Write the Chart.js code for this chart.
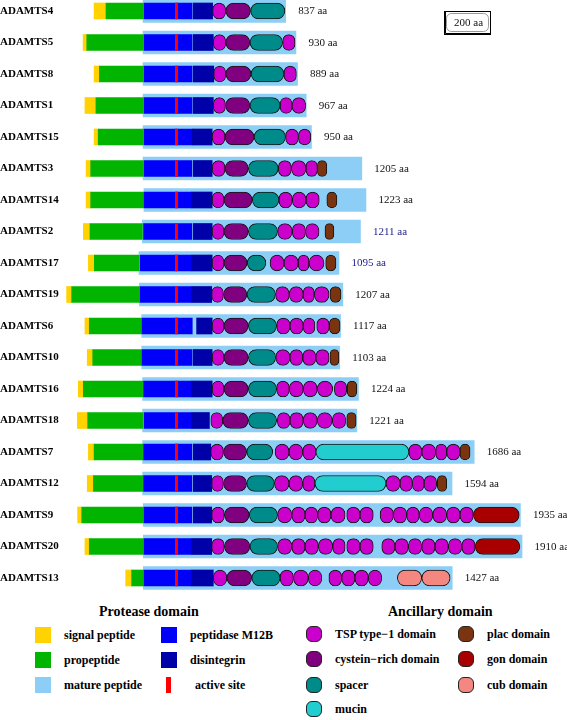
<!DOCTYPE html>
<html><head><meta charset="utf-8">
<script src="https://cdn.jsdelivr.net/npm/chart.js@4.4.1/dist/chart.umd.min.js"></script>
<style>
html,body{margin:0;padding:0;background:#fff;}
#wrap{position:relative;width:567px;height:720px;overflow:hidden;font-family:"Liberation Serif","Times New Roman",serif;background:#fff;}
#chartBox{position:absolute;left:0;top:0;width:567px;height:600px;}
.h{position:absolute;font-weight:bold;font-size:14px;line-height:16px;white-space:nowrap;color:#000;}
.t{position:absolute;font-weight:bold;font-size:12px;line-height:16px;white-space:nowrap;color:#000;}
.sw{position:absolute;width:16px;height:16px;box-sizing:border-box;}
.sw.r{border:1px solid #222;border-radius:6px;}
</style></head>
<body>
<div id="wrap">
  <div id="chartBox"><canvas id="c"></canvas></div>
  <div class="h" style="left:99px;top:604px;">Protease domain</div>
  <div class="h" style="left:388px;top:604px;">Ancillary domain</div>

  <div class="sw" style="left:35px;top:627px;background:#FFD200;"></div><div class="t" style="left:64px;top:627px;">signal peptide</div>
  <div class="sw" style="left:35px;top:652px;background:#00B400;"></div><div class="t" style="left:64px;top:652px;">propeptide</div>
  <div class="sw" style="left:35px;top:677px;background:#8CCEF6;"></div><div class="t" style="left:64px;top:677px;">mature peptide</div>
  <div class="sw" style="left:161px;top:627px;background:#0000FA;"></div><div class="t" style="left:190px;top:627px;">peptidase M12B</div>
  <div class="sw" style="left:161px;top:652px;background:#0000A8;"></div><div class="t" style="left:190px;top:652px;">disintegrin</div>
  <div class="sw" style="left:166px;top:677px;width:5px;background:#FF0000;"></div><div class="t" style="left:195px;top:677px;">active site</div>

  <div class="sw r" style="left:306px;top:626px;background:#CC00CC;"></div><div class="t" style="left:335px;top:626px;">TSP type−1 domain</div>
  <div class="sw r" style="left:306px;top:651px;background:#800080;"></div><div class="t" style="left:335px;top:651px;">cystein−rich domain</div>
  <div class="sw r" style="left:306px;top:677px;background:#008B8B;"></div><div class="t" style="left:335px;top:677px;">spacer</div>
  <div class="sw r" style="left:306px;top:701px;background:#22CDD0;"></div><div class="t" style="left:335px;top:701px;">mucin</div>
  <div class="sw r" style="left:458px;top:626px;background:#7A3510;"></div><div class="t" style="left:487px;top:626px;">plac domain</div>
  <div class="sw r" style="left:458px;top:651px;background:#A80000;"></div><div class="t" style="left:487px;top:651px;">gon domain</div>
  <div class="sw r" style="left:458px;top:677px;background:#F4877F;"></div><div class="t" style="left:487px;top:677px;">cub domain</div>
</div>
<script>
// ---- data (positions in amino acids, relative to the start of the peptidase M12B domain) ----
const proteins = ['ADAMTS4','ADAMTS5','ADAMTS8','ADAMTS1','ADAMTS15','ADAMTS3','ADAMTS14','ADAMTS2','ADAMTS17','ADAMTS19','ADAMTS6','ADAMTS10','ADAMTS16','ADAMTS18','ADAMTS7','ADAMTS12','ADAMTS9','ADAMTS20','ADAMTS13'];
const lengths = [837,930,889,967,950,1205,1223,1211,1095,1207,1117,1103,1224,1221,1686,1594,1935,1910,1427];

const signalPeptide = [[-216,-164],[-264,-248],[-216,-193],[-256,-208],[-216,-198],[-251,-231],[-251,-231],[-263,-234],[-241,-215],[-336,-314],[-256,-237],[-246,-222],[-285,-263],[-289,-244],[-241,-216],[-246,-219],[-288,-270],[-256,-237],[-78,-52]];
const propeptide = [[-164,-2],[-248,-2],[-193,-2],[-208,-2],[-198,-2],[-231,-2],[-231,2],[-234,-5],[-215,-20],[-314,-18],[-237,-8],[-222,-8],[-263,-4],[-244,-4],[-216,-4],[-219,-4],[-270,-1],[-237,-1],[-52,-1]];
const peptidaseM12B = [[2,212],[2,212],[2,212],[2,212],[2,212],[2,211],[3,211],[0,211],[-15,211],[-15,211],[-6,213],[-6,212],[0,211],[2,211],[0,211],[0,211],[2,211],[2,211],[2,211]];
const activeSite = [144,144,144,144,144,144,144,144,144,144,144,144,144,144,144,144,144,144,144];
const disintegrin = [[217,302],[217,305],[217,307],[217,305],[213,300],[217,300],[211,300],[217,300],[211,300],[211,298],[232,300],[217,300],[211,300],[211,288],[217,294],[217,298],[217,298],[211,298],[211,305]];
const cysteinRich = [[359,468],[359,465],[359,470],[358,465],[356,483],[356,458],[351,475],[351,458],[351,453],[349,452],[351,458],[351,458],[351,458],[346,458],[349,451],[349,451],[353,462],[353,465],[364,473]];
const spacer = [[468,618],[465,608],[470,614],[465,597],[483,621],[458,589],[475,592],[458,586],[453,535],[452,577],[458,582],[458,578],[458,582],[458,582],[451,565],[451,572],[462,586],[465,586],[473,597]];
const tspDomains = [
  [[302,359]],
  [[305,359],[608,662]],
  [[307,359],[614,668]],
  [[305,358],[597,649],[649,709]],
  [[300,356],[621,677],[677,731]],
  [[300,356],[589,646],[646,710],[710,760]],
  [[300,351],[592,650],[650,710],[710,768]],
  [[300,351],[586,650],[650,708],[708,767]],
  [[300,351],[553,614],[614,676],[676,723],[723,789]],
  [[298,349],[577,637],[637,698],[698,746],[746,811]],
  [[300,351],[582,640],[640,698],[698,749],[757,812]],
  [[300,351],[578,640],[640,696],[696,753],[753,811]],
  [[300,351],[582,637],[637,698],[698,759],[759,827],[834,888]],
  [[294,346],[585,640],[640,698],[698,759],[759,825],[825,884]],
  [[294,349],[575,636],[636,696],[696,753],[1160,1216],[1216,1277],[1277,1325],[1325,1383]],
  [[298,349],[572,636],[636,696],[696,749],[1060,1121],[1121,1175],[1175,1226],[1226,1281]],
  [[298,353],[586,648],[648,706],[706,761],[761,819],[819,881],[888,946],[946,1004],[1034,1092],[1092,1150],[1150,1205],[1205,1264],[1264,1325],[1325,1383],[1383,1441]],
  [[298,353],[586,648],[648,706],[706,764],[764,827],[827,881],[888,946],[946,1004],[1041,1099],[1099,1157],[1157,1216],[1216,1274],[1274,1332],[1332,1391],[1391,1449]],
  [[305,364],[597,655],[655,720],[720,779],[810,866],[866,924],[924,982],[982,1041]]
];
const mucin = [null,null,null,null,null,null,null,null,null,null,null,null,null,null,[753,1160],[749,1060],null,null,null];
const plac = [null,null,null,null,null,[760,801],[801,845],[793,832],[796,841],[815,863],[812,859],[815,854],[890,932],[888,929],[1383,1427],[1284,1325],null,null,null];
const gon = [null,null,null,null,null,null,null,null,null,null,null,null,null,null,null,null,[1441,1642],[1449,1645],null];
const cub = [null,null,null,null,null,null,null,null,null,null,null,null,null,null,null,null,null,null,[[1109,1216],[1216,1340]]];
const scaleBar = {start: 1315, length: 200};

// ---- build datasets ----
const rowsOf = pairs => pairs.flatMap((p, i) => p ? [{y: proteins[i], x: p}] : []);
const listsOf = lists => lists.flatMap((l, i) => (l || []).map(p => ({y: proteins[i], x: p})));
const matureRows = proteins.map((p, i) => ({y: p, x: [propeptide[i][1], signalPeptide[i][0] + lengths[i]]}));

const base = {grouped: false, borderSkipped: false, barThickness: 16, clip: false, borderWidth: 0};
const outlined = Object.assign({}, base, {borderWidth: 1, borderColor: '#161616', borderRadius: 20});

const datasets = [
  Object.assign({}, base, {label: 'active site', data: activeSite.map((a, i) => ({y: proteins[i], x: [a - 5, a + 5]})), backgroundColor: '#FF0000', order: 1}),
  Object.assign({}, outlined, {label: 'TSP type−1 domain', data: listsOf(tspDomains), backgroundColor: '#CC00CC', order: 2}),
  Object.assign({}, outlined, {label: 'cystein−rich domain', data: rowsOf(cysteinRich), backgroundColor: '#800080', order: 2}),
  Object.assign({}, outlined, {label: 'spacer', data: rowsOf(spacer), backgroundColor: '#008B8B', order: 2}),
  Object.assign({}, outlined, {label: 'mucin', data: rowsOf(mucin), backgroundColor: '#22CDD0', order: 2}),
  Object.assign({}, outlined, {label: 'plac domain', data: rowsOf(plac), backgroundColor: '#7A3510', order: 2}),
  Object.assign({}, outlined, {label: 'gon domain', data: rowsOf(gon), backgroundColor: '#A80000', order: 2}),
  Object.assign({}, outlined, {label: 'cub domain', data: listsOf(cub), backgroundColor: '#F4877F', order: 2}),
  Object.assign({}, base, {label: 'disintegrin', data: rowsOf(disintegrin), backgroundColor: '#0000A8', order: 3}),
  Object.assign({}, base, {label: 'peptidase M12B', data: rowsOf(peptidaseM12B), backgroundColor: '#0000FA', order: 3}),
  Object.assign({}, base, {label: 'propeptide', data: rowsOf(propeptide), backgroundColor: '#00B400', order: 3}),
  Object.assign({}, base, {label: 'signal peptide', data: rowsOf(signalPeptide), backgroundColor: '#FFD200', order: 3}),
  Object.assign({}, base, {label: 'mature peptide', data: matureRows, barThickness: 23, backgroundColor: '#8CCEF6', order: 4})
];

const blueLabels = new Set(['ADAMTS2', 'ADAMTS17']);
const annot = {
  id: 'annot',
  afterDatasetsDraw(chart) {
    const {ctx, scales: {x, y}} = chart;
    ctx.save();
    ctx.font = '11px "Liberation Serif", "Times New Roman", serif';
    ctx.textBaseline = 'middle';
    ctx.textAlign = 'left';
    proteins.forEach((p, i) => {
      const end = signalPeptide[i][0] + lengths[i];
      ctx.fillStyle = blueLabels.has(p) ? '#1c1c8c' : '#111';
      ctx.fillText(lengths[i] + ' aa', x.getPixelForValue(end) + 12.5, y.getPixelForValue(i) + 0.5);
    });
    // scale bar box
    const x0 = Math.round(x.getPixelForValue(scaleBar.start)) + 0.5;
    const x1 = Math.round(x.getPixelForValue(scaleBar.start + scaleBar.length)) + 0.5;
    const t = Math.round(y.getPixelForValue(0)) + 0.5;
    const b = Math.round(y.getPixelForValue(0.74)) + 0.5;
    ctx.strokeStyle = '#000';
    ctx.lineWidth = 1;
    ctx.strokeRect(x0, t, x1 - x0, b - t);
    ctx.beginPath();
    ctx.moveTo(x0 + 1, t); ctx.lineTo(x0 + 1, b - 1); ctx.lineTo(x1, b - 1);
    ctx.stroke();
    ctx.strokeStyle = '#999';
    ctx.beginPath();
    ctx.roundRect(x0 + 2, t + 2, x1 - x0 - 4, b - t - 5, 5);
    ctx.stroke();
    ctx.fillStyle = '#111';
    ctx.textAlign = 'center';
    ctx.fillText(scaleBar.length + ' aa', (x0 + x1) / 2 + 1, (t + b) / 2);
    ctx.restore();
  }
};

new Chart(document.getElementById('c'), {
  type: 'bar',
  data: {labels: proteins, datasets},
  plugins: [annot],
  options: {
    indexAxis: 'y',
    responsive: true,
    maintainAspectRatio: false,
    animation: false,
    events: [],
    layout: {padding: {left: 0, right: 7, top: 11, bottom: 22}},
    plugins: {legend: {display: false}, tooltip: {enabled: false}},
    scales: {
      x: {type: 'linear', min: -365, max: 1820, display: false},
      y: {
        type: 'category', offset: false,
        grid: {display: false, drawTicks: false},
        border: {display: false},
        ticks: {autoSkip: false, crossAlign: 'far', padding: 0, color: '#000',
          font: {family: '"Liberation Serif", "Times New Roman", serif', size: 11, weight: 'bold'}},
        afterFit(s) { s.width = 60; }
      }
    }
  }
});
</script>
</body></html>
